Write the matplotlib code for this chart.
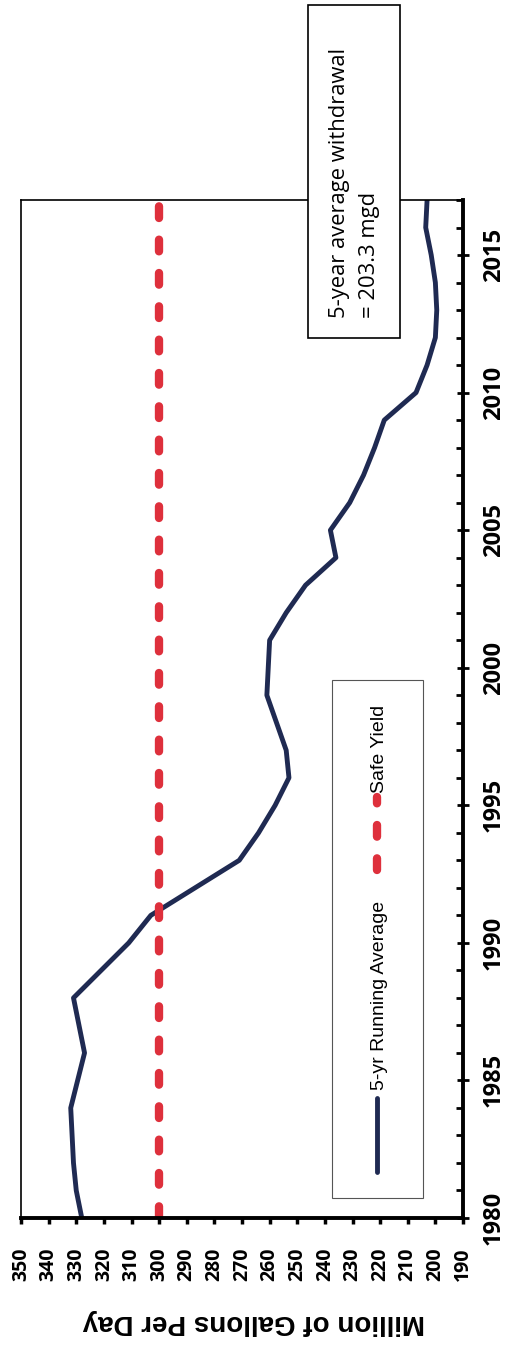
import matplotlib
matplotlib.use("Agg")
import matplotlib.pyplot as plt
from matplotlib.patches import Rectangle
from matplotlib.lines import Line2D
from matplotlib.ticker import MultipleLocator

years = [1980, 1981, 1982, 1983, 1984, 1985, 1986, 1987, 1988, 1989,
         1990, 1991, 1992, 1993, 1994, 1995, 1996, 1997, 1998, 1999,
         2000, 2001, 2002, 2003, 2004, 2005, 2006, 2007, 2008, 2009,
         2010, 2011, 2012, 2013, 2014, 2015, 2016, 2017]
running_avg = [328, 330, 331, 331.5, 332, 329.5, 327, 329, 331, 321,
               311, 303, 287, 271, 264, 258, 253, 254, 257.5, 261,
               260.5, 260, 254, 247, 236, 238, 231, 226, 222, 218.5,
               207, 203, 200, 199.5, 200, 201.5, 203.5, 203]
safe_yield = 300
mgd_ticks = list(range(190, 351, 10))
year_ticks = [1980, 1985, 1990, 1995, 2000, 2005, 2010, 2015]

W, H = 513, 1349
fig = plt.figure(figsize=(W / 100, H / 100), dpi=100)
ax = fig.add_axes([21 / W, 1 - 1218 / H, 442 / W, 1018 / H])

ax.plot(running_avg, years, color='#1f2a52', lw=3.5, solid_joinstyle='round')
ax.axvline(safe_yield, color='#de303c', lw=6, dashes=(1.4, 2.6), dash_capstyle='round')

ax.set_xlim(350, 190)
ax.set_ylim(1980, 2017)
ax.set_xticks(mgd_ticks)
ax.set_yticks(year_ticks)
ax.yaxis.set_minor_locator(MultipleLocator(1))
ax.yaxis.tick_right()

ax.tick_params(axis='x', direction='out', length=4, width=2.5, pad=17)
ax.tick_params(axis='y', which='major', direction='inout', length=9, width=2, pad=9)
ax.tick_params(axis='y', which='minor', direction='in', length=5, width=2)
ax.tick_params(axis='y', which='minor', left=False)

for lab in ax.get_xticklabels():
    lab.set_rotation(90)
    lab.set_fontsize(14)
    lab.set_fontweight('bold')
    lab.set_family('Open Sans')
    lab.set_va('top')
    lab.set_ha('center')
for lab in ax.get_yticklabels():
    lab.set_rotation(90)
    lab.set_fontsize(17)
    lab.set_fontweight('bold')
    lab.set_family('Open Sans')
    lab.set_va('center')
    lab.set_ha('left')

ax.spines['bottom'].set_linewidth(2.8)
ax.spines['right'].set_linewidth(2.8)
ax.spines['top'].set_linewidth(1.2)
ax.spines['left'].set_linewidth(1.2)

fig.text(254 / W, 1 - 1322 / H, 'Million of Gallons Per Day', rotation=180,
         ha='center', va='center', fontsize=20, fontweight='bold', family='Liberation Sans')

# legend box, drawn by hand so it can be rotated
fig.patches.append(Rectangle((332 / W, 1 - 1198 / H), 91 / W, 518 / H, transform=fig.transFigure,
                             fill=False, edgecolor='#555555', lw=0.8))
fig.lines.append(Line2D([377 / W, 377 / W], [1 - 1172 / H, 1 - 1098 / H], transform=fig.transFigure,
                        color='#1f2a52', lw=3.5, solid_capstyle='round'))
fig.text(379 / W, 1 - 1090 / H, '5-yr Running Average', rotation=90, ha='center', va='bottom',
         fontsize=14, family='Liberation Sans')
fig.lines.append(Line2D([377 / W, 377 / W], [1 - 870 / H, 1 - 797 / H], transform=fig.transFigure,
                        color='#de303c', lw=6, dashes=(1.4, 2.6), dash_capstyle='round'))
fig.text(379 / W, 1 - 793 / H, 'Safe Yield', rotation=90, ha='center', va='bottom',
         fontsize=14, family='Liberation Sans')

# annotation box
fig.patches.append(Rectangle((308 / W, 1 - 338 / H), 92 / W, 333 / H, transform=fig.transFigure,
                             facecolor='white', edgecolor='black', lw=1.2, zorder=5))
fig.text(340 / W, 1 - 318 / H, '5-year average withdrawal', rotation=90, ha='center', va='bottom',
         fontsize=15.8, family='Open Sans', zorder=6)
fig.text(370 / W, 1 - 318 / H, '= 203.3 mgd', rotation=90, ha='center', va='bottom',
         fontsize=15.8, family='Open Sans', zorder=6)

fig.savefig('out.png', dpi=100)
